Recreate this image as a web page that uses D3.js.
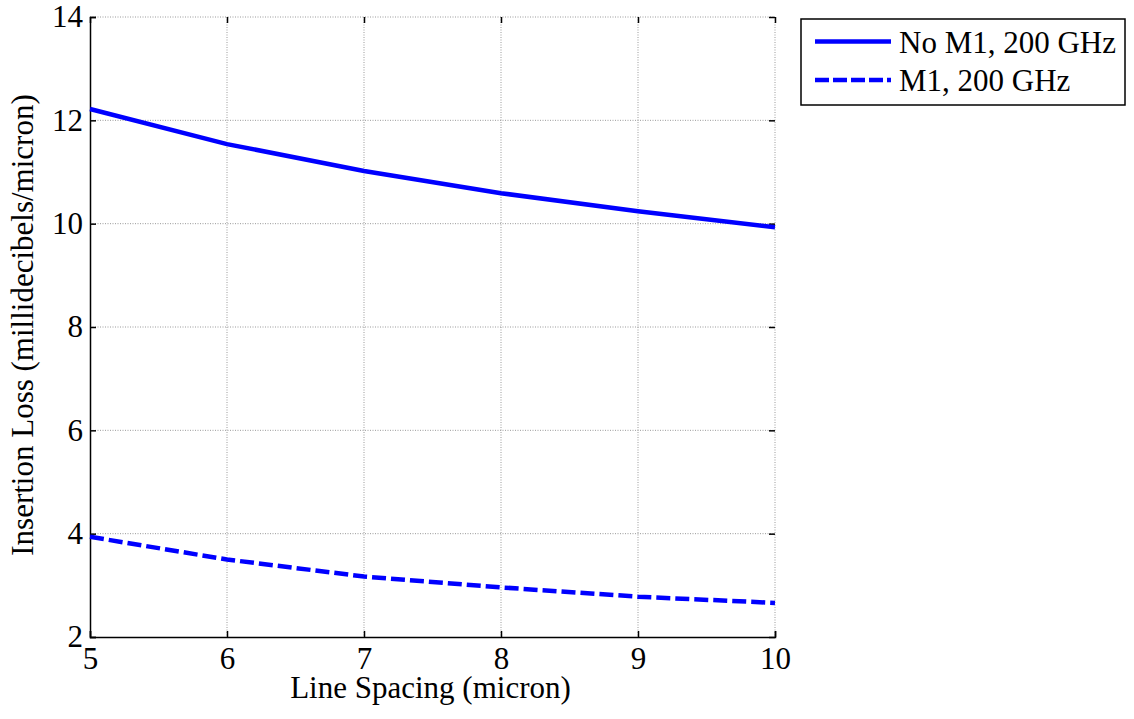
<!DOCTYPE html>
<html>
<head>
<meta charset="utf-8">
<script src="https://cdn.jsdelivr.net/npm/d3@7"></script>
<style>
  body { margin: 0; background: #fff; }
  svg { display: block; }
  text { font-family: "Liberation Serif", "Times New Roman", serif; fill: #000; }
</style>
</head>
<body>
<svg id="chart" width="1134" height="719"></svg>
<script>
// Line spacing (micron) on the x axis
const spacing = [5, 6, 7, 8, 9, 10];
// Insertion loss (millidecibels/micron) for each configuration
const lossNoM1 = [12.22, 11.54, 11.02, 10.59, 10.24, 9.93];
const lossM1 = [3.94, 3.50, 3.17, 2.96, 2.78, 2.66];
const seriesNames = ["No M1, 200 GHz", "M1, 200 GHz"];
const xTicks = [5, 6, 7, 8, 9, 10];
const yTicks = [2, 4, 6, 8, 10, 12, 14];

const svg = d3.select("#chart");
const margin = { left: 90, top: 17, right: 775, bottom: 637 };

const x = d3.scaleLinear().domain([5, 10]).range([margin.left, margin.right]);
const y = d3.scaleLinear().domain([2, 14]).range([margin.bottom, margin.top]);

// dotted grid
const grid = svg.append("g").attr("stroke", "#9a9a9a").attr("stroke-width", 1)
  .attr("stroke-dasharray", "1,1.5");
grid.selectAll("line.gx").data(xTicks.filter(d => d !== 5)).join("line")
  .attr("x1", d => x(d)).attr("x2", d => x(d))
  .attr("y1", margin.top).attr("y2", margin.bottom);
grid.selectAll("line.gy").data(yTicks.filter(d => d !== 2)).join("line")
  .attr("x1", margin.left).attr("x2", margin.right)
  .attr("y1", d => y(d)).attr("y2", d => y(d));

// axes: ticks point inward, mirrored on top and right
const fs = 31;
const xAxis = d3.axisBottom(x).tickValues(xTicks).tickSize(-6).tickPadding(10).tickFormat(d3.format("d"));
const yAxis = d3.axisLeft(y).tickValues(yTicks).tickSize(-6).tickPadding(7).tickFormat(d3.format("d"));
const xTop = d3.axisTop(x).tickValues(xTicks).tickSize(-6).tickFormat("");
const yRight = d3.axisRight(y).tickValues(yTicks).tickSize(-6).tickFormat("");

function styleAxis(g, showDomain) {
  g.attr("font-family", null);
  g.select(".domain").attr("stroke", showDomain ? "#000" : "none").attr("stroke-width", 1.5);
  g.selectAll(".tick line").attr("stroke", "#000").attr("stroke-width", 1.5);
  g.selectAll(".tick text").style("font-family", "'Liberation Serif', serif").style("font-size", fs + "px").attr("fill", "#000");
}

svg.append("g").attr("transform", `translate(0,${margin.bottom})`).call(xAxis)
  .call(g => styleAxis(g, true));
svg.append("g").attr("transform", `translate(${margin.left},0)`).call(yAxis)
  .call(g => styleAxis(g, true));
svg.append("g").attr("transform", `translate(0,${margin.top})`).call(xTop)
  .call(g => styleAxis(g, false));
svg.append("g").attr("transform", `translate(${margin.right},0)`).call(yRight)
  .call(g => styleAxis(g, false));

// series lines
const line = d3.line().x((d, i) => x(spacing[i])).y(d => y(d));
svg.append("path").datum(lossNoM1).attr("d", line)
  .attr("fill", "none").attr("stroke", "#0000ff").attr("stroke-width", 4.5);
svg.append("path").datum(lossM1).attr("d", line)
  .attr("fill", "none").attr("stroke", "#0000ff").attr("stroke-width", 4.5)
  .attr("stroke-dasharray", "14,5");

// axis titles
svg.append("text").attr("x", (margin.left + margin.right) / 2 - 2).attr("y", 698)
  .attr("text-anchor", "middle").style("font-size", fs + "px")
  .text("Line Spacing (micron)");
svg.append("text").attr("transform", `translate(33,${(margin.top + margin.bottom) / 2 - 2}) rotate(-90)`)
  .attr("text-anchor", "middle").style("font-size", fs + "px")
  .text("Insertion Loss (millidecibels/micron)");

// legend
const lg = svg.append("g");
lg.append("rect").attr("x", 801).attr("y", 19).attr("width", 324).attr("height", 86)
  .attr("fill", "#fff").attr("stroke", "#000").attr("stroke-width", 1.5);
const legendRows = [
  { name: seriesNames[0], dash: null, cy: 41.5 },
  { name: seriesNames[1], dash: "14,4", cy: 80 }
];
legendRows.forEach(r => {
  lg.append("line").attr("x1", 815).attr("x2", 891).attr("y1", r.cy).attr("y2", r.cy)
    .attr("stroke", "#0000ff").attr("stroke-width", 4.5)
    .attr("stroke-dasharray", r.dash);
  lg.append("text").attr("x", 899).attr("y", r.cy + 11).style("font-size", fs + "px").text(r.name);
});
</script>
</body>
</html>
